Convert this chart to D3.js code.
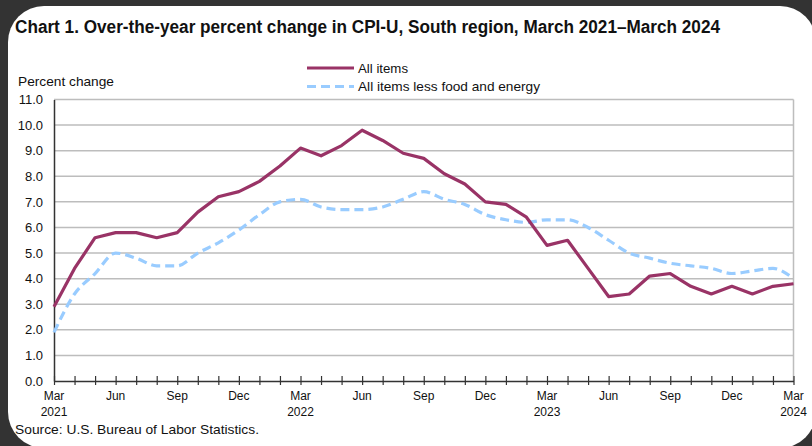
<!DOCTYPE html>
<html>
<head>
<meta charset="utf-8">
<script src="https://cdn.jsdelivr.net/npm/d3@7"></script>
<style>
  html, body { margin: 0; padding: 0; background: #333333; }
  svg { display: block; font-family: "Liberation Sans", Arial, sans-serif; }
</style>
</head>
<body>
<div class="chart-container"></div>
<script>
// Over-the-year percent change, Mar 2021 .. Mar 2024 (one value per month)
const allItems = [2.9, 4.4, 5.6, 5.8, 5.8, 5.6, 5.8, 6.6, 7.2, 7.4, 7.8, 8.4, 9.1,
    8.8, 9.2, 9.8, 9.4, 8.9, 8.7, 8.1, 7.7, 7.0, 6.9, 6.4, 5.3,
    5.5, 4.4, 3.3, 3.4, 4.1, 4.2, 3.7, 3.4, 3.7, 3.4, 3.7, 3.8];
const lessFoodEnergy = [1.9, 3.4, 4.2, 5.0, 4.8, 4.5, 4.5, 5.0, 5.4, 5.9, 6.5, 7.0, 7.1,
    6.8, 6.7, 6.7, 6.8, 7.1, 7.4, 7.1, 6.9, 6.5, 6.3, 6.2, 6.3,
    6.3, 6.0, 5.5, 5.0, 4.8, 4.6, 4.5, 4.4, 4.2, 4.3, 4.4, 4.0];
const monthLabels = ["Mar", "Jun", "Sep", "Dec", "Mar", "Jun", "Sep", "Dec", "Mar", "Jun", "Sep", "Dec", "Mar"];
const yearLabels = ["2021", "", "", "", "2022", "", "", "", "2023", "", "", "", "2024"];
const yTicks = [0, 1, 2, 3, 4, 5, 6, 7, 8, 9, 10, 11];

const width = 812;
const height = 446;
const marginTop = 99.5;
const marginLeft = 54;
const plotRight = 793.5;
const plotBottom = 381;

const svg = d3.select('.chart-container').append("svg")
    .attr("width", width)
    .attr("height", height);

// white card with rounded corners
svg.append("rect")
    .attr("x", 8).attr("y", 6)
    .attr("width", 808).attr("height", 442)
    .attr("rx", 36)
    .attr("fill", "#ffffff");

// title
svg.append("text")
    .attr("x", 15).attr("y", 33)
    .attr("font-size", 17.5)
    .attr("font-weight", "bold")
    .attr("fill", "#111")
    .attr("textLength", 705)
    .attr("lengthAdjust", "spacingAndGlyphs")
    .text("Chart 1. Over-the-year percent change in CPI-U, South region, March 2021\u2013March 2024");

const x = d3.scaleLinear()
    .domain([0, allItems.length - 1])
    .range([marginLeft, plotRight]);

const y = d3.scaleLinear()
    .domain([0, 11])
    .range([plotBottom, marginTop]);

// gridlines
svg.append("g")
    .selectAll("line")
    .data(yTicks.filter(d => d > 0))
    .enter()
    .append("line")
    .attr("x1", marginLeft).attr("x2", plotRight)
    .attr("y1", d => y(d)).attr("y2", d => y(d))
    .attr("stroke", "#bdbdbd")
    .attr("stroke-width", 1.5);

// right border of plot
svg.append("line")
    .attr("x1", plotRight).attr("x2", plotRight)
    .attr("y1", marginTop).attr("y2", plotBottom)
    .attr("stroke", "#bdbdbd")
    .attr("stroke-width", 1.5);

// y axis
const yAxis = svg.append("g")
    .attr("transform", `translate(${marginLeft},0)`)
    .call(d3.axisLeft(y).tickValues(yTicks).tickFormat(d3.format(".1f")).tickSize(0).tickPadding(11));
yAxis.select(".domain").attr("stroke", "#333").attr("stroke-width", 1.5);
yAxis.selectAll("text").attr("font-size", 13).attr("fill", "#111")
    .attr("font-family", "Liberation Sans, Arial, sans-serif");

svg.append("text")
    .attr("x", 18).attr("y", 86)
    .attr("font-size", 13)
    .attr("fill", "#111")
    .attr("textLength", 96)
    .attr("lengthAdjust", "spacingAndGlyphs")
    .text("Percent change");

// x axis: monthly ticks crossing the axis line
const xAxis = svg.append("g")
    .attr("transform", `translate(0,${plotBottom})`)
    .call(d3.axisBottom(x).tickValues(d3.range(0, 37)).tickFormat("").tickSizeInner(4).tickSizeOuter(0));
xAxis.select(".domain").attr("stroke", "#333").attr("stroke-width", 1.5);
xAxis.selectAll(".tick line").attr("stroke", "#333").attr("stroke-width", 1.2).attr("y1", -5);

const labels = svg.append("g")
    .attr("font-size", 12)
    .attr("fill", "#111")
    .attr("text-anchor", "middle");
labels.selectAll(".mlab")
    .data(monthLabels)
    .enter()
    .append("text")
    .attr("class", "mlab")
    .attr("x", (d, i) => x(i * 3))
    .attr("y", 400)
    .text(d => d);
labels.selectAll(".ylab")
    .data(yearLabels)
    .enter()
    .append("text")
    .attr("class", "ylab")
    .attr("x", (d, i) => x(i * 3))
    .attr("y", 416)
    .text(d => d);

// series
const lineStraight = d3.line()
    .x((d, i) => x(i))
    .y(d => y(d));
const lineSmooth = d3.line()
    .x((d, i) => x(i))
    .y(d => y(d))
    .curve(d3.curveMonotoneX);

svg.append("path")
    .datum(lessFoodEnergy)
    .attr("d", lineSmooth)
    .attr("fill", "none")
    .attr("stroke", "#99ccff")
    .attr("stroke-width", 3.2)
    .attr("stroke-dasharray", "9,5");

svg.append("path")
    .datum(allItems)
    .attr("d", lineStraight)
    .attr("fill", "none")
    .attr("stroke", "#993366")
    .attr("stroke-width", 3.2)
    .attr("stroke-linejoin", "round");

// legend
const legend = svg.append("g");
legend.append("line")
    .attr("x1", 307).attr("x2", 354)
    .attr("y1", 68).attr("y2", 68)
    .attr("stroke", "#993366").attr("stroke-width", 3.2);
legend.append("text")
    .attr("x", 358).attr("y", 72.5)
    .attr("font-size", 13).attr("fill", "#111")
    .attr("textLength", 50).attr("lengthAdjust", "spacingAndGlyphs")
    .text("All items");
legend.append("line")
    .attr("x1", 307).attr("x2", 354)
    .attr("y1", 86.5).attr("y2", 86.5)
    .attr("stroke", "#99ccff").attr("stroke-width", 3.2)
    .attr("stroke-dasharray", "9,5");
legend.append("text")
    .attr("x", 358).attr("y", 91)
    .attr("font-size", 13).attr("fill", "#111")
    .attr("textLength", 182).attr("lengthAdjust", "spacingAndGlyphs")
    .text("All items less food and energy");

// source
svg.append("text")
    .attr("x", 15).attr("y", 434)
    .attr("font-size", 13).attr("fill", "#111")
    .attr("textLength", 244).attr("lengthAdjust", "spacingAndGlyphs")
    .text("Source: U.S. Bureau of Labor Statistics.");
</script>
</body>
</html>
